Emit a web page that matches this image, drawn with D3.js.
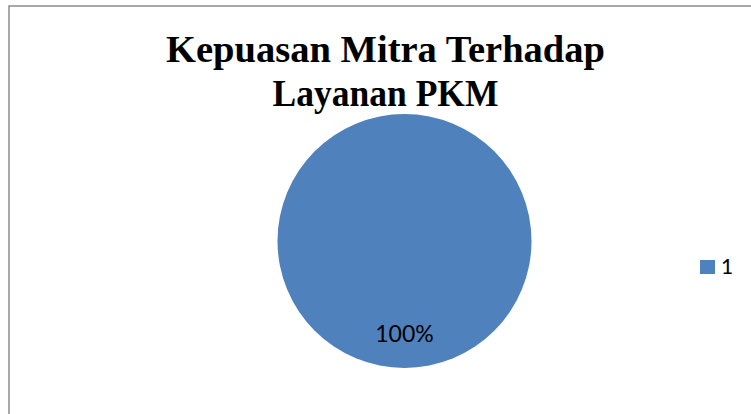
<!DOCTYPE html>
<html>
<head>
<meta charset="utf-8">
<script src="https://cdn.jsdelivr.net/npm/d3@7"></script>
<style>
  body { margin: 0; background: #fff; }
  svg { display: block; }
</style>
</head>
<body>
<script>
// data
var categories = ["1"];
var values = [100];
var titleLines = ["Kepuasan Mitra Terhadap", "Layanan PKM"];

var width = 751, height = 414;
var cx = 404.5, cy = 241, radius = 127;

var svg = d3.select("body").append("svg")
    .attr("width", width)
    .attr("height", height);

// chart border
svg.append("rect")
    .attr("x", 9).attr("y", 6)
    .attr("width", 760).attr("height", 420)
    .attr("fill", "#fff")
    .attr("stroke", "#8c8c8c")
    .attr("stroke-width", 1.5);

// title (serif bold, squeezed to the original widths)
var titleWidths = [439, 226];
svg.append("g").selectAll("text")
    .data(titleLines)
  .enter().append("text")
    .attr("x", 385.5)
    .attr("y", function(d, i) { return 62 + i * 44; })
    .attr("text-anchor", "middle")
    .attr("textLength", function(d, i) { return titleWidths[i]; })
    .attr("lengthAdjust", "spacingAndGlyphs")
    .style("font-family", "'Liberation Serif', 'DejaVu Serif', serif")
    .style("font-weight", "bold")
    .style("font-size", "38px")
    .text(function(d) { return d; });

var color = d3.scaleOrdinal().domain(categories).range(["#4f81bd"]);
var total = d3.sum(values);

var pie = d3.pie().sort(null).value(function(d) { return d; });
var arc = d3.arc().innerRadius(0).outerRadius(radius);

var g = svg.append("g")
    .attr("transform", "translate(" + cx + "," + cy + ")");

var arcs = pie(values);

g.selectAll("path")
    .data(arcs)
  .enter().append("path")
    .attr("d", arc)
    .attr("fill", function(d, i) { return color(categories[i]); });

// data labels
g.selectAll("text")
    .data(arcs)
  .enter().append("text")
    .attr("x", 0)
    .attr("y", 101)
    .attr("text-anchor", "middle")
    .style("font-family", "Lato, 'Liberation Sans', sans-serif")
    .style("font-size", "23px")
    .text(function(d) { return Math.round(d.value / total * 100) + "%"; });

// legend
var legend = svg.append("g").selectAll("g")
    .data(categories)
  .enter().append("g")
    .attr("transform", function(d, i) { return "translate(700," + (260 + i * 24) + ")"; });

legend.append("rect")
    .attr("width", 15).attr("height", 14)
    .attr("fill", function(d) { return color(d); });

legend.append("text")
    .attr("x", 21)
    .attr("y", 14)
    .style("font-family", "Lato, 'Liberation Sans', sans-serif")
    .style("font-size", "21px")
    .text(function(d) { return d; });
</script>
</body>
</html>
